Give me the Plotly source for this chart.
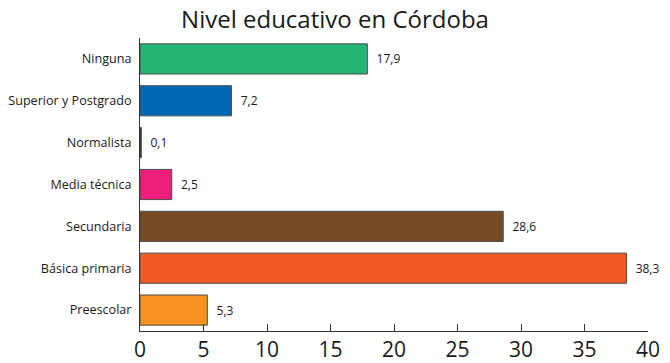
import plotly.graph_objects as go

categories = ["Preescolar", "Básica primaria", "Secundaria", "Media técnica",
              "Normalista", "Superior y Postgrado", "Ninguna"]
values = [5.3, 38.3, 28.6, 2.5, 0.1, 7.2, 17.9]
colors = ["#f7931e", "#f15a24", "#754c24", "#ed1e79", "#1a1a1a", "#0068b5", "#22b573"]
x_ticks = [0, 5, 10, 15, 20, 25, 30, 35, 40]

FONT = "Open Sans"

fig = go.Figure(go.Bar(
    x=values, y=categories, orientation="h",
    marker=dict(color=colors, line=dict(color="#4d4d4d", width=1)),
    texttemplate="  %{x:.1f}", textposition="outside",
    textfont=dict(family=FONT, size=12, color="#1a1a1a"),
    cliponaxis=False, width=0.72, hoverinfo="skip",
))

fig.update_layout(
    width=670, height=363,
    margin=dict(l=140, r=22, t=38, b=32, autoexpand=False),
    paper_bgcolor="white", plot_bgcolor="white",
    separators=",.",
    showlegend=False,
    title=dict(text="Nivel educativo en Córdoba", x=0.5, xanchor="center",
               y=1 - 20 / 363, yanchor="middle",
               font=dict(family=FONT, size=24, color="#1a1a1a")),
    xaxis=dict(range=[0, 40], tickvals=x_ticks, ticks="inside", ticklen=7,
               tickcolor="#333", showline=True, linecolor="#333", linewidth=1,
               showgrid=False, zeroline=False, automargin=False,
               tickfont=dict(family=FONT, size=21, color="#1a1a1a")),
    yaxis=dict(showline=True, linecolor="#333", linewidth=1, showgrid=False,
               ticks="", ticklabelstandoff=5, automargin=False,
               tickfont=dict(family=FONT, size=12.6, color="#1a1a1a")),
)

fig.write_html(
    "out.html",
    config={"displayModeBar": False},
    post_script="document.body.style.margin='0';document.body.style.overflow='hidden';",
)
